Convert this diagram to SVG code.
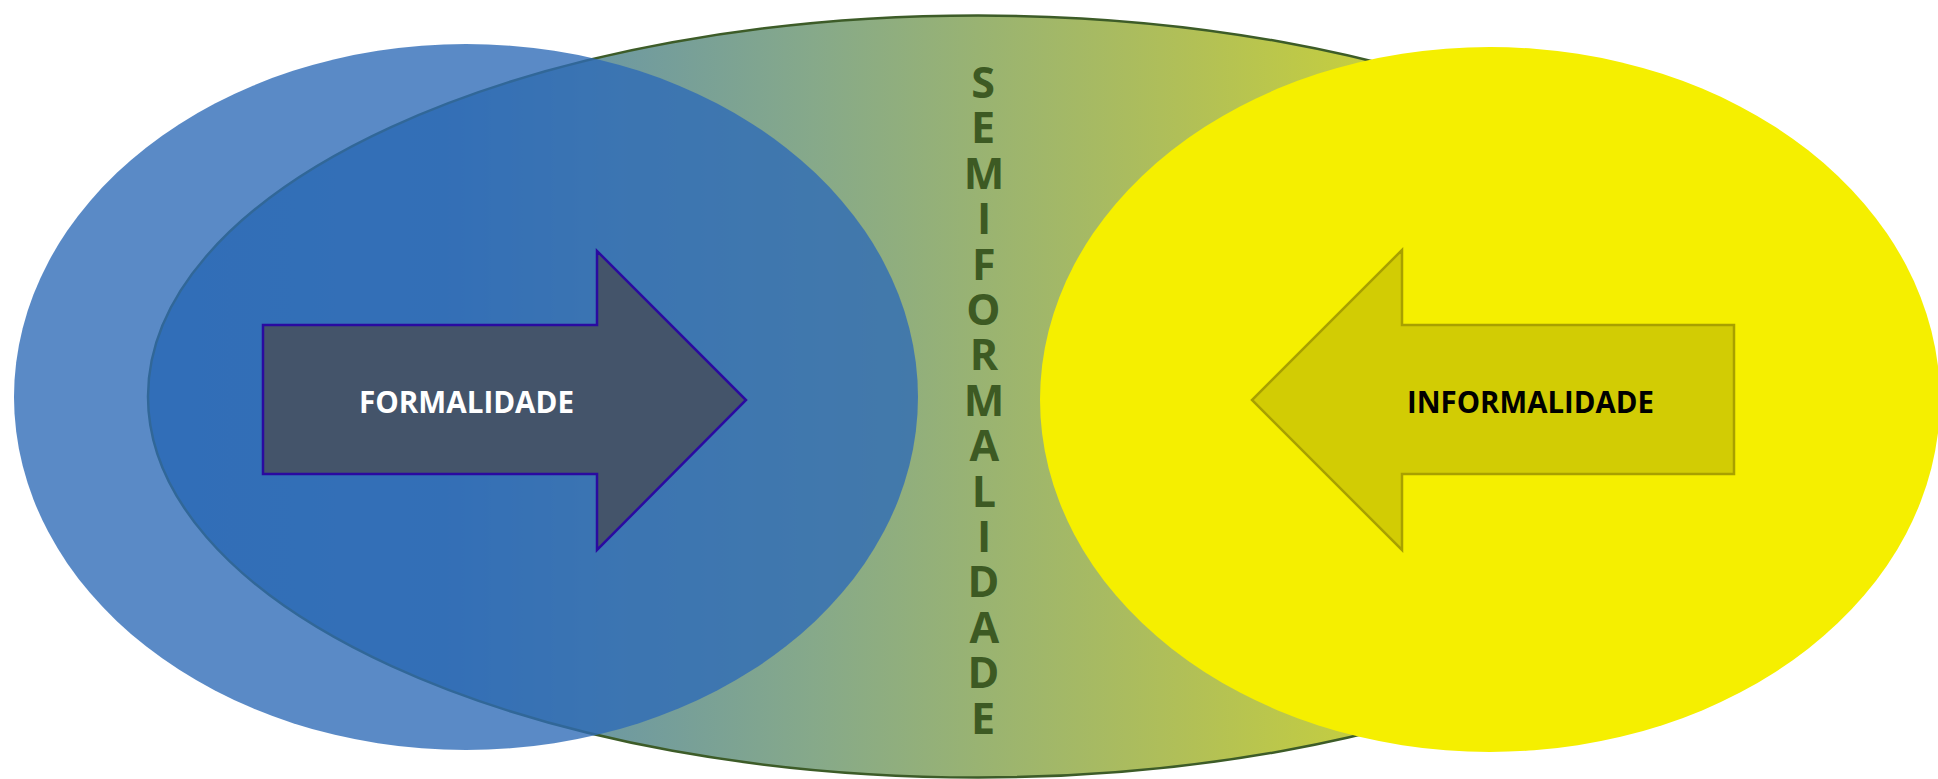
<svg xmlns="http://www.w3.org/2000/svg" width="1938" height="779" viewBox="0 0 1938 779">
<defs>
<linearGradient id="semiGrad" gradientUnits="userSpaceOnUse" x1="148" y1="0" x2="1808" y2="0">
<stop offset="0" stop-color="#3f7cbc"/>
<stop offset="0.18" stop-color="#4a80b5"/>
<stop offset="0.28" stop-color="#6f9aa0"/>
<stop offset="0.40" stop-color="#86a98a"/>
<stop offset="0.51" stop-color="#9bb470"/>
<stop offset="0.63" stop-color="#b2c056"/>
<stop offset="0.75" stop-color="#c8d03c"/>
<stop offset="1" stop-color="#e6e61e"/>
</linearGradient>
</defs>
<style>
.lbl{font-family:"Open Sans","Liberation Sans",sans-serif;font-weight:bold;font-size:31px;text-anchor:middle}
.vert{font-family:"Open Sans","Liberation Sans",sans-serif;font-weight:bold;font-size:43px;fill:#3d5a23;writing-mode:vertical-rl;text-orientation:upright;letter-spacing:-13.6px}
</style>
<rect width="1938" height="779" fill="#ffffff"/>
<g id="semiformalidade">
<ellipse cx="978" cy="396.5" rx="830" ry="381" fill="url(#semiGrad)" stroke="#3d5c28" stroke-width="2.5"/>
<text class="vert" x="983" y="52">SEMIFORMALIDADE</text>
</g>
<g id="formal-circle">
<ellipse cx="466" cy="397" rx="452" ry="353" fill="#2e6bb7" fill-opacity="0.79"/>
</g>
<g id="informal-circle">
<ellipse cx="1490" cy="399.5" rx="450" ry="352.5" fill="#f5ef00"/>
</g>
<g id="formalidade">
<polygon points="263,325 597,325 597,251 746,400 597,550 597,474 263,474" fill="#44546a" stroke="#2a0aa0" stroke-width="2.5"/>
<text class="lbl" x="466.5" y="413" fill="#ffffff" textLength="215" lengthAdjust="spacingAndGlyphs">FORMALIDADE</text>
</g>
<g id="informalidade">
<polygon points="1734,325 1402,325 1402,250 1252,400 1402,550 1402,474 1734,474" fill="#d2cc04" stroke="#a8a000" stroke-width="2.5"/>
<text class="lbl" x="1530.5" y="413" fill="#000000" textLength="247" lengthAdjust="spacingAndGlyphs">INFORMALIDADE</text>
</g>
</svg>
